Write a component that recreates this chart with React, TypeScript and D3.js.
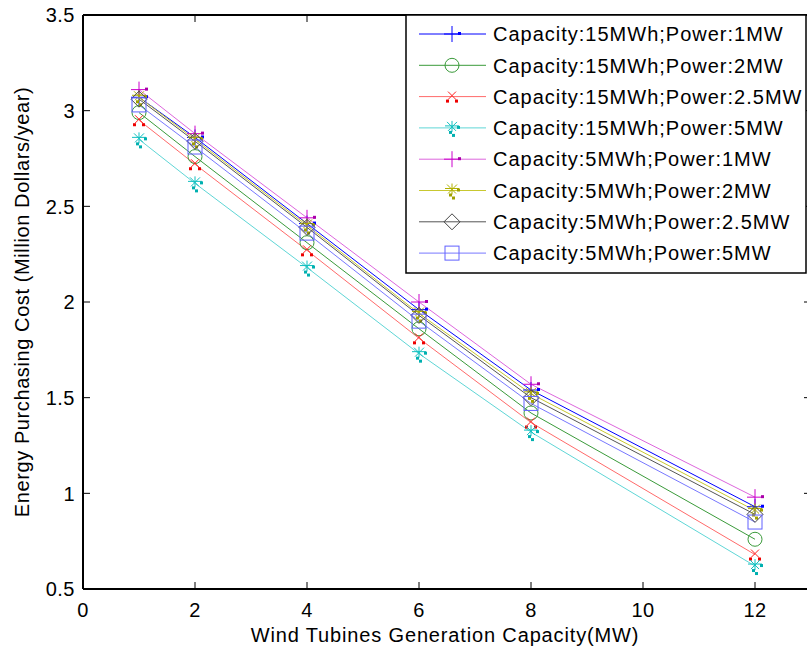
import React from "react";
import * as d3 from "d3";

const xValues = [1, 2, 4, 6, 8, 12];
const seriesNames = [
  "Capacity:15MWh;Power:1MW",
  "Capacity:15MWh;Power:2MW",
  "Capacity:15MWh;Power:2.5MW",
  "Capacity:15MWh;Power:5MW",
  "Capacity:5MWh;Power:1MW",
  "Capacity:5MWh;Power:2MW",
  "Capacity:5MWh;Power:2.5MW",
  "Capacity:5MWh;Power:5MW",
];
const s15_1 = [3.07, 2.86, 2.41, 1.96, 1.54, 0.93];
const s15_2 = [2.99, 2.76, 2.31, 1.86, 1.42, 0.76];
const s15_25 = [2.95, 2.72, 2.27, 1.81, 1.37, 0.68];
const s15_5 = [2.85, 2.62, 2.18, 1.73, 1.32, 0.62];
const s5_1 = [3.11, 2.88, 2.44, 2.0, 1.57, 0.98];
const s5_2 = [3.07, 2.85, 2.4, 1.94, 1.52, 0.91];
const s5_25 = [3.06, 2.84, 2.39, 1.93, 1.5, 0.89];
const s5_5 = [3.03, 2.81, 2.36, 1.9, 1.47, 0.85];
const seriesValues = [s15_1, s15_2, s15_25, s15_5, s5_1, s5_2, s5_25, s5_5];
const lineColors = ["#0000ff", "#3a9a3a", "#ff6a6a", "#5fd6d6", "#dd66dd", "#c8c830", "#555555", "#7777ff"];
const markerColors = ["#0000ff", "#3a9a3a", "#ff2020", "#10c0c0", "#cc00cc", "#b0b000", "#444444", "#6060ff"];
const dotColors = ["#0000ff", "#3a9a3a", "#ee0000", "#00b0b0", "#aa00aa", "#a0a000", "#444444", "#6060ff"];
const markerTypes = ["plus", "circle", "xdots", "stardots", "plus", "stardots", "diamond", "square"];
const xTicks = [0, 2, 4, 6, 8, 10, 12];
const yTicks = [0.5, 1, 1.5, 2, 2.5, 3, 3.5];

const FONT = "'Liberation Sans', Arial, Helvetica, sans-serif";

function Marker({ type, c, dc, x, y }: { type: string; c: string; dc: string; x: number; y: number }) {
  const t = `translate(${x},${y})`;
  if (type === "plus") {
    return (
      <g transform={t} stroke={c} strokeWidth={1} fill="none">
        <line x1={0} y1={-8} x2={0} y2={8} />
        <line x1={-8} y1={0} x2={8} y2={0} />
        <rect x={6} y={-2} width={3} height={3} fill={dc} stroke="none" />
      </g>
    );
  }
  if (type === "circle") {
    return <circle cx={x} cy={y} r={7} fill="none" stroke={c} strokeWidth={1} />;
  }
  if (type === "square") {
    return <rect x={x - 7} y={y - 7} width={14} height={14} fill="none" stroke={c} strokeWidth={1} />;
  }
  if (type === "diamond") {
    return (
      <path
        transform={t}
        d="M0,-8L8,0L0,8L-8,0Z"
        fill="none"
        stroke={c}
        strokeWidth={1}
      />
    );
  }
  if (type === "xdots") {
    return (
      <g transform={t} stroke={c} strokeWidth={1} fill="none">
        <line x1={-4} y1={-5} x2={4} y2={3} />
        <line x1={4} y1={-5} x2={-4} y2={3} />
        <rect x={-6} y={3} width={3} height={3} fill={dc} stroke="none" />
        <rect x={3} y={3} width={3} height={3} fill={dc} stroke="none" />
      </g>
    );
  }
  // stardots
  return (
    <g transform={t} stroke={c} strokeWidth={1} fill="none">
      <line x1={0} y1={-7} x2={0} y2={4} />
      <line x1={-7} y1={-2} x2={7} y2={-2} />
      <line x1={-5} y1={-6} x2={4} y2={3} />
      <line x1={5} y1={-6} x2={-4} y2={3} />
      <rect x={5} y={-2} width={3} height={3} fill={dc} stroke="none" />
      <rect x={-3} y={3} width={3} height={3} fill={dc} stroke="none" />
      <rect x={0} y={6} width={3} height={3} fill={dc} stroke="none" />
    </g>
  );
}

export default function App() {
  const W = 807;
  const H = 652;
  const left = 83;
  const right = 811;
  const top = 15;
  const bottom = 589;
  const x = d3.scaleLinear().domain([0, 13]).range([left, right]);
  const y = d3.scaleLinear().domain([0.5, 3.5]).range([bottom, top]);
  const line = d3
    .line<number>()
    .x((_, i) => x(xValues[i]))
    .y((d) => y(d));

  const legX = 406;
  const legY = 15;
  const legW = 400;
  const legH = 258;
  const rowY = (i: number) => 34 + i * 31.3;

  return (
    <svg
      width={W}
      height={H}
      style={{ position: "absolute", left: 0, top: 0, background: "#fff" }}
      fontFamily={FONT}
    >
      <rect x={0} y={0} width={W} height={H} fill="#fff" />
      {/* series lines */}
      {seriesValues.map((vals, si) => (
        <path key={"l" + si} d={line(vals) || ""} fill="none" stroke={lineColors[si]} strokeWidth={1} />
      ))}
      {/* markers */}
      {seriesValues.map((vals, si) =>
        vals.map((v, i) => (
          <Marker
            key={"m" + si + "-" + i}
            type={markerTypes[si]}
            c={markerColors[si]}
            dc={dotColors[si]}
            x={x(xValues[i])}
            y={y(v)}
          />
        ))
      )}
      {/* axes box */}
      <g stroke="#000" strokeWidth={2} fill="none">
        <line x1={left} y1={top} x2={left} y2={bottom} />
        <line x1={left} y1={bottom} x2={right} y2={bottom} />
        <line x1={left} y1={top} x2={right} y2={top} />
        <line x1={right} y1={top} x2={right} y2={bottom} />
      </g>
      {/* ticks */}
      <g stroke="#000" strokeWidth={1}>
        {xTicks.map((t) => (
          <g key={"xt" + t}>
            <line x1={x(t)} y1={bottom} x2={x(t)} y2={bottom - 7} />
            <line x1={x(t)} y1={top} x2={x(t)} y2={top + 7} />
          </g>
        ))}
        {yTicks.map((t) => (
          <g key={"yt" + t}>
            <line x1={left} y1={y(t)} x2={left + 7} y2={y(t)} />
            <line x1={right} y1={y(t)} x2={right - 7} y2={y(t)} />
          </g>
        ))}
      </g>
      {/* tick labels */}
      <g fontSize={20} fill="#000">
        {xTicks.map((t) => (
          <text key={"xl" + t} x={x(t)} y={617} textAnchor="middle" letterSpacing={0.5}>
            {d3.format("")(t)}
          </text>
        ))}
        {yTicks.map((t) => (
          <text key={"yl" + t} x={75} y={y(t)} dy="0.36em" textAnchor="end" letterSpacing={0.5}>
            {d3.format("")(t)}
          </text>
        ))}
      </g>
      {/* axis titles */}
      <text x={445} y={642} textAnchor="middle" fontSize={20} letterSpacing={0.85} fill="#000">
        Wind Tubines Generation Capacity(MW)
      </text>
      <text
        transform="translate(29,302) rotate(-90)"
        textAnchor="middle"
        fontSize={20}
        letterSpacing={0.6}
        fill="#000"
      >
        Energy Purchasing Cost (Million Dollars/year)
      </text>
      {/* legend */}
      <rect x={legX} y={legY} width={legW} height={legH} fill="#fff" stroke="#000" strokeWidth={1.5} />
      {seriesNames.map((name, si) => (
        <g key={"lg" + si}>
          <line x1={419} y1={rowY(si)} x2={486} y2={rowY(si)} stroke={lineColors[si]} strokeWidth={1} />
          <Marker type={markerTypes[si]} c={markerColors[si]} dc={dotColors[si]} x={452} y={rowY(si)} />
          <text x={493} y={rowY(si)} dy="0.36em" fontSize={20} letterSpacing={1} fill="#000">
            {name}
          </text>
        </g>
      ))}
    </svg>
  );
}
